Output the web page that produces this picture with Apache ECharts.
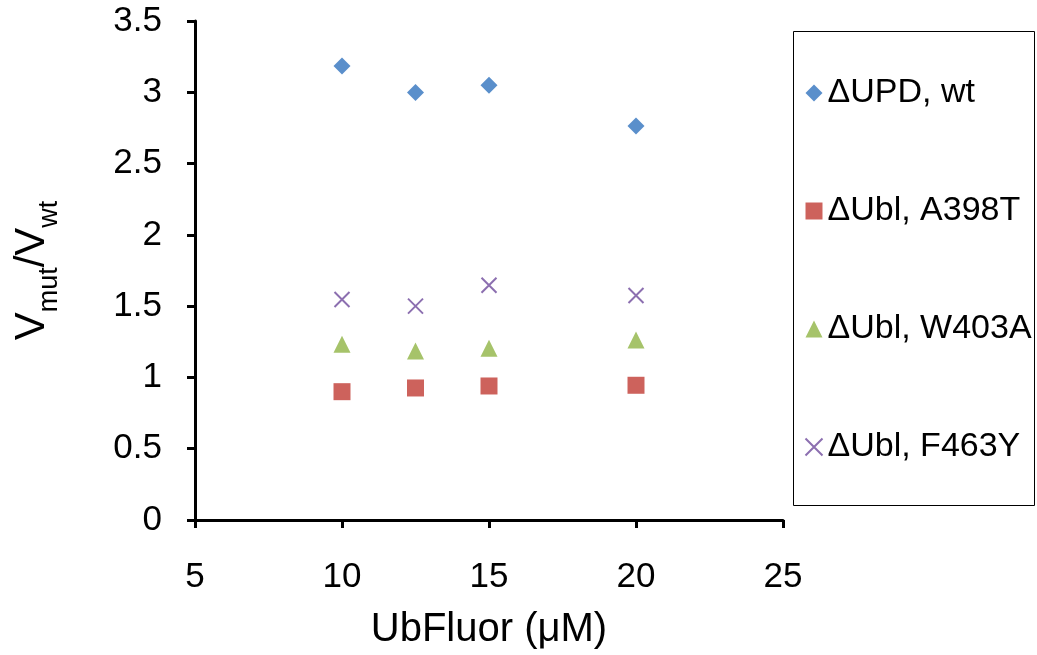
<!DOCTYPE html>
<html>
<head>
<meta charset="utf-8">
<script src="https://cdn.jsdelivr.net/npm/echarts@6/dist/echarts.min.js"></script>
<style>
  html, body { margin: 0; padding: 0; background: #fff; }
  #chart { width: 1037px; height: 655px; }
</style>
</head>
<body>
<div id="chart"></div>
<script>
// UbFluor concentrations (µM) at which each construct was measured
const concentrations = [10, 12.5, 15, 20];

// Relative velocity V_mut / V_wt for each construct
const updWt  = [3.185, 2.998, 3.05, 2.763];
const a398t  = [0.90, 0.926, 0.94, 0.945];
const w403a  = [1.233, 1.185, 1.204, 1.262];
const f463y  = [1.547, 1.50, 1.647, 1.575];

const seriesNames = ['\u0394UPD, wt', '\u0394Ubl, A398T', '\u0394Ubl, W403A', '\u0394Ubl, F463Y'];

const xTicks = [5, 10, 15, 20, 25];
const yTicks = [0, 0.5, 1, 1.5, 2, 2.5, 3, 3.5];

const FONT = '"Liberation Sans", Arial, sans-serif';
const CROSS = 'path://M0,0L10,10M10,0L0,10';
const pts = ys => concentrations.map((x, i) => [x, ys[i]]);

const chart = echarts.init(document.getElementById('chart'), null, { renderer: 'canvas' });

const axisCommon = {
  axisLine: { show: true, onZero: false, lineStyle: { color: '#000', width: 3 } },
  axisTick: { show: true, inside: false, length: 8, lineStyle: { color: '#000', width: 3 } },
  splitLine: { show: false },
  axisLabel: { color: '#000', fontSize: 35, fontFamily: FONT }
};

chart.setOption({
  backgroundColor: '#fff',
  animation: false,
  grid: { left: 195, right: 254, top: 21, bottom: 134, containLabel: false },
  xAxis: Object.assign({}, axisCommon, {
    type: 'value',
    min: xTicks[0], max: xTicks[xTicks.length - 1], interval: 5,
    name: 'UbFluor (\u03bcM)',
    nameLocation: 'middle',
    nameGap: 90,
    nameTextStyle: { color: '#000', fontSize: 40, fontFamily: FONT },
    axisLabel: Object.assign({}, axisCommon.axisLabel, { margin: 40 })
  }),
  yAxis: Object.assign({}, axisCommon, {
    type: 'value',
    min: yTicks[0], max: yTicks[yTicks.length - 1], interval: 0.5,
    name: '{v|V}{s|mut}{v|/V}{s|wt}',
    nameLocation: 'middle',
    nameRotate: 90,
    nameGap: 142,
    nameTextStyle: {
      color: '#000', fontFamily: FONT,
      rich: {
        v: { fontSize: 42, fontFamily: FONT, color: '#000', verticalAlign: 'bottom', lineHeight: 50 },
        s: { fontSize: 27, fontFamily: FONT, color: '#000', verticalAlign: 'bottom', lineHeight: 50, padding: [0, 0, -10, 0] }
      }
    },
    axisLabel: Object.assign({}, axisCommon.axisLabel, { margin: 33 })
  }),
  legend: {
    orient: 'vertical',
    left: 803, top: 73,
    itemGap: 78,
    itemWidth: 17, itemHeight: 17,
    padding: 0,
    itemStyle: { borderWidth: 0 },
    textStyle: { color: '#000', fontSize: 34, fontFamily: FONT, lineHeight: 40 },
    data: [
      { name: seriesNames[0], icon: 'diamond' },
      { name: seriesNames[1], icon: 'rect' },
      { name: seriesNames[2], icon: 'triangle' },
      { name: seriesNames[3], icon: CROSS, itemStyle: { color: 'none', borderColor: '#8C6FB0', borderWidth: 2 } }
    ]
  },
  graphic: [{
    type: 'rect',
    shape: { x: 793.5, y: 31.5, width: 241, height: 474 },
    style: { fill: 'none', stroke: '#000', lineWidth: 1 },
    z: 100
  }],
  series: [
    {
      name: seriesNames[0], type: 'scatter', data: pts(updWt),
      symbol: 'diamond', symbolSize: [17, 17],
      itemStyle: { color: '#5A8FCB', opacity: 1 }
    },
    {
      name: seriesNames[1], type: 'scatter', data: pts(a398t),
      symbol: 'rect', symbolSize: [17, 17],
      itemStyle: { color: '#CD625C', opacity: 1 }
    },
    {
      name: seriesNames[2], type: 'scatter', data: pts(w403a),
      symbol: 'triangle', symbolSize: [17, 17],
      itemStyle: { color: '#A6C36A', opacity: 1 }
    },
    {
      name: seriesNames[3], type: 'scatter', data: pts(f463y),
      symbol: CROSS, symbolSize: [15, 15],
      itemStyle: { color: 'none', borderColor: '#8C6FB0', borderWidth: 2, opacity: 1 }
    }
  ]
});
</script>
</body>
</html>
